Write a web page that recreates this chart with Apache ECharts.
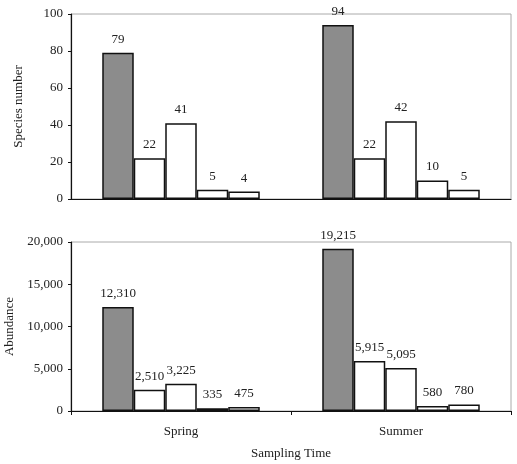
<!DOCTYPE html>
<html lang="en">
<head>
    <meta charset="utf-8" />
    <title>Species number and abundance</title>
    <script src="https://cdn.jsdelivr.net/npm/echarts@6/dist/echarts.min.js"></script>
    <style>
        body { margin: 0; padding: 0; background: #fff; }
        #main { width: 517px; height: 464px; }
    </style>
</head>
<body>
<div id="main"></div>
<script type="text/javascript">
    // Data
    const categories = ['Spring', 'Summer'];
    const speciesTotal = [79, 94];
    const species2 = [22, 22];
    const species3 = [41, 42];
    const species4 = [5, 10];
    const species5 = [4, 5];
    const abundTotal = [12310, 19215];
    const abund2 = [2510, 5915];
    const abund3 = [3225, 5095];
    const abund4 = [335, 580];
    const abund5 = [475, 780];

    const font = 'Liberation Serif';
    const fmt = v => Number(v).toLocaleString('en-US');

    var myChart = echarts.init(document.getElementById('main'));

    const makeSeries = (arrs, gridIdx) => arrs.map((d, i) => ({
        name: 's' + gridIdx + '_' + i,
        type: 'bar',
        xAxisIndex: gridIdx,
        yAxisIndex: gridIdx,
        data: d,
        barWidth: 31.5,
        barGap: '0%',
        itemStyle: {
            color: i === 0 ? '#8c8c8c' : '#ffffff',
            borderColor: '#111',
            borderWidth: 1.5
        },
        label: {
            show: true,
            position: 'top',
            distance: 7,
            color: '#222',
            fontFamily: font,
            fontSize: 13,
            formatter: p => fmt(p.value)
        }
    }));

    const yAxisBase = {
        type: 'value',
        min: 0,
        axisLine: { show: true, lineStyle: { color: '#111', width: 1.2 } },
        axisTick: { show: true, length: 3, lineStyle: { color: '#111' } },
        axisLabel: { color: '#222', fontFamily: font, fontSize: 13, margin: 8, formatter: fmt },
        splitLine: { show: false },
        nameLocation: 'middle',
        nameTextStyle: { color: '#222', fontFamily: font, fontSize: 13 }
    };

    var option = {
        backgroundColor: '#fff',
        animation: false,
        grid: [
            { left: 71, right: 6, top: 14, height: 185, show: true, borderColor: '#aaa', borderWidth: 1, outerBoundsMode: 'none' },
            { left: 71, right: 6, top: 242, height: 169, show: true, borderColor: '#aaa', borderWidth: 1, outerBoundsMode: 'none' }
        ],
        xAxis: [
            {
                type: 'category', gridIndex: 0, data: categories,
                axisLine: { show: true, lineStyle: { color: '#111', width: 1.2 } },
                axisTick: { show: false },
                axisLabel: { show: false }
            },
            {
                type: 'category', gridIndex: 1, data: categories,
                axisLine: { show: true, lineStyle: { color: '#111', width: 1.2 } },
                axisTick: { show: true, length: 4, lineStyle: { color: '#111' } },
                axisLabel: { color: '#222', fontFamily: font, fontSize: 13, margin: 14 },
                name: 'Sampling Time',
                nameLocation: 'middle',
                nameGap: 36,
                nameTextStyle: { color: '#222', fontFamily: font, fontSize: 13 }
            }
        ],
        yAxis: [
            Object.assign({}, yAxisBase, { gridIndex: 0, max: 100, interval: 20, name: 'Species number', nameGap: 46 }),
            Object.assign({}, yAxisBase, { gridIndex: 1, max: 20000, interval: 5000, name: 'Abundance', nameGap: 55 })
        ],
        series: makeSeries([speciesTotal, species2, species3, species4, species5], 0)
            .concat(makeSeries([abundTotal, abund2, abund3, abund4, abund5], 1))
    };

    myChart.setOption(option);
</script>
</body>
</html>
